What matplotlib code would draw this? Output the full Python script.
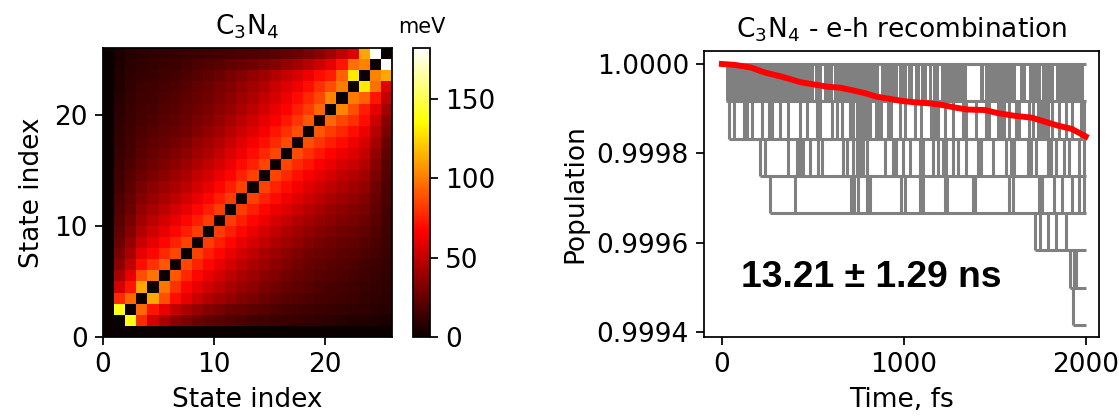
import numpy as np
import matplotlib
matplotlib.use("Agg")
import matplotlib.pyplot as plt
from matplotlib.ticker import FormatStrFormatter

# ---------------- data: left panel (coupling matrix, meV) ----------------
# upper-triangle rows of the 26x26 symmetric matrix; row i holds M[i, i+1:]
# (state 0 couples to nothing -> zero row/column, diagonal is zero)
upper_rows = [
    [140, 78, 55, 43, 36, 31, 27, 24, 22, 20, 18, 16, 15, 14, 13, 12, 11, 10, 9, 8, 7, 7, 6, 5],
    [95, 72, 60, 50, 43, 38, 34, 30, 27, 25, 23, 21, 19, 17, 16, 15, 14, 13, 12, 11, 10, 9, 8],
    [112, 88, 70, 60, 52, 46, 41, 37, 33, 30, 27, 24, 22, 20, 18, 17, 16, 15, 14, 12, 11, 9],
    [98, 80, 68, 60, 54, 48, 43, 39, 35, 31, 28, 25, 23, 21, 19, 17, 16, 15, 13, 12, 10],
    [90, 77, 68, 61, 55, 49, 44, 40, 36, 32, 29, 26, 24, 22, 20, 18, 17, 15, 13, 11],
    [86, 76, 68, 61, 55, 49, 44, 40, 36, 32, 29, 26, 24, 22, 20, 18, 16, 14, 12],
    [84, 75, 68, 61, 55, 49, 44, 40, 36, 32, 29, 27, 25, 23, 21, 19, 16, 13],
    [83, 75, 68, 61, 55, 50, 45, 41, 37, 33, 30, 28, 26, 24, 21, 18, 14],
    [83, 75, 68, 61, 55, 50, 45, 41, 37, 34, 31, 29, 27, 24, 20, 15],
    [83, 75, 68, 62, 56, 51, 46, 42, 38, 35, 32, 30, 27, 22, 16],
    [83, 75, 68, 62, 57, 52, 47, 43, 39, 36, 33, 30, 24, 17],
    [84, 76, 69, 63, 58, 53, 48, 44, 40, 37, 33, 26, 18],
    [84, 76, 70, 64, 59, 54, 49, 45, 41, 37, 28, 19],
    [85, 77, 71, 65, 60, 55, 50, 46, 41, 31, 20],
    [86, 78, 72, 66, 61, 56, 52, 46, 34, 22],
    [87, 79, 73, 67, 62, 57, 51, 38, 24],
    [88, 81, 75, 69, 63, 56, 42, 27],
    [90, 83, 77, 70, 62, 47, 31],
    [94, 86, 79, 70, 53, 36],
    [103, 88, 74, 60, 42],
    [100, 93, 72, 50],
    [130, 97, 58],
    [102, 112],
    [182],
]
n_states = 26
cbar_ticks = [0, 50, 100, 150]
cbar_max = 182

# ---------------- data: right panel (populations) ----------------
pop_levels = [1.0, 0.999917, 0.999833, 0.99975, 0.999667, 0.999583, 0.9995, 0.999417]
level_start_fs = [0, 22, 37, 210, 265, 1720, 1916, 1931]
trace_end_fs = 2000

# band between level 0 and level 1: hops too dense to resolve -> covered time spans
band01_dense_fs = [(22, 505), (512, 552), (560, 610), (617, 866), (872, 966),
                   (976, 1016), (1024, 1052), (1060, 1090), (1096, 1128),
                   (1138, 1153), (1160, 1195), (1202, 1350), (1420, 1440),
                   (1446, 1618), (1638, 1672), (1690, 1752), (1760, 1828),
                   (1838, 1990)]
# hop times (fs) between level k and k+1
hops_12 = [37, 64, 119, 137, 164, 219, 256, 274, 320, 365, 429, 466, 521, 539, 603,
           630, 658, 703, 721, 740, 750, 758, 768, 776, 785, 795, 813, 849, 860, 877,
           913, 922, 932, 977, 1005, 1059, 1096, 1151, 1160, 1169, 1178, 1187, 1224,
           1269, 1324, 1342, 1397, 1452, 1470, 1516, 1534, 1553, 1580, 1616, 1635,
           1690, 1708, 1735, 1744, 1753, 1762, 1772, 1781, 1790, 1817, 1854, 1890,
           1927, 1973, 1991]
hops_23 = [210, 237, 365, 411, 429, 447, 484, 530, 548, 667, 685, 721, 740, 758, 776,
           795, 895, 941, 959, 995, 1032, 1087, 1105, 1160, 1187, 1215, 1233, 1269,
           1297, 1342, 1406, 1425, 1489, 1562, 1589, 1607, 1680, 1699, 1726, 1790,
           1808, 1836, 1881, 1909, 1963, 1991]
hops_34 = [265, 402, 712, 725, 749, 795, 816, 986, 1005, 1087, 1105, 1224, 1237, 1379,
           1394, 1580, 1598, 1744, 1759, 1826, 1872, 1927, 1963, 1991]
hops_45 = [1720, 1747, 1793, 1839, 1894]
hops_56 = [1916, 1935, 1949]
hops_67 = [1931]

avg_time_fs = [0, 70, 160, 235, 325, 435, 508, 582, 650, 720, 793, 848, 921, 995,
               1068, 1141, 1215, 1289, 1352, 1444, 1518, 1610, 1702, 1775, 1848,
               1922, 2000]
avg_pop = [1.0, 0.999998, 0.999992, 0.999981, 0.999972, 0.999959, 0.999954,
           0.999949, 0.999947, 0.999941, 0.999934, 0.999927, 0.999922, 0.999917,
           0.999914, 0.999912, 0.999908, 0.999902, 0.999898, 0.999897, 0.999890,
           0.999884, 0.999880, 0.999871, 0.999862, 0.999855, 0.999838]
lifetime_text = "13.21 \u00b1 1.29 ns"

# ---------------- figure ----------------
DPI = 158
W, H = 1119, 416
plt.rcParams["font.family"] = ["DejaVu Sans"]
plt.rcParams["font.size"] = 12
fig = plt.figure(figsize=(W / DPI, H / DPI), dpi=DPI)

# left heatmap
M = np.zeros((n_states, n_states))
for i, row in enumerate(upper_rows, start=1):
    M[i, i + 1:] = row
M = M + M.T

ax1 = fig.add_axes([103 / W, (H - 337) / H, 288.7 / W, 289 / H])
im = ax1.imshow(M, cmap="hot", origin="lower", extent=[0, n_states, 0, n_states],
                vmin=0, vmax=cbar_max, aspect="auto", interpolation="nearest")
ax1.set_xticks([0, 10, 20])
ax1.set_yticks([0, 10, 20])
ax1.set_xlabel("State index")
ax1.set_ylabel("State index")
ax1.set_title(r"C$_3$N$_4$", fontsize=12)

cax = fig.add_axes([413 / W, (H - 337) / H, 17 / W, 289 / H])
cb = fig.colorbar(im, cax=cax, ticks=cbar_ticks)
cax.set_title("meV", fontsize=9.5, pad=7)

# right population panel
gray = "#808080"
glw = 1.4
ax2 = fig.add_axes([704.3 / W, (H - 336.7) / H, 394.5 / W, 286 / H])
for lev, start in zip(pop_levels, level_start_fs):
    ax2.hlines(lev, start, trace_end_fs, color=gray, lw=glw)
for a, b in band01_dense_fs:
    ax2.fill_between([a, b], pop_levels[1], pop_levels[0], color=gray, lw=0)
for k, hops in enumerate([hops_12, hops_23, hops_34, hops_45, hops_56, hops_67], start=1):
    ax2.vlines(hops, pop_levels[k + 1], pop_levels[k], color=gray, lw=glw)
ax2.plot(avg_time_fs, avg_pop, color="red", lw=2.7, zorder=5)
ax2.text(106, 0.999502, lifetime_text, fontsize=17, fontweight="bold",
         family=["Liberation Sans", "DejaVu Sans"], va="baseline", ha="left")
ax2.set_xlim(-97, 2072)
ax2.set_ylim(0.99939, 1.0000297)
ax2.set_xticks([0, 1000, 2000])
ax2.set_yticks([0.9994, 0.9996, 0.9998, 1.0])
ax2.yaxis.set_major_formatter(FormatStrFormatter("%.4f"))
ax2.set_xlabel("Time, fs")
ax2.set_ylabel("Population")
ax2.set_title(r"C$_3$N$_4$ - e-h recombination", fontsize=12)

fig.savefig("out.png", dpi=DPI)
